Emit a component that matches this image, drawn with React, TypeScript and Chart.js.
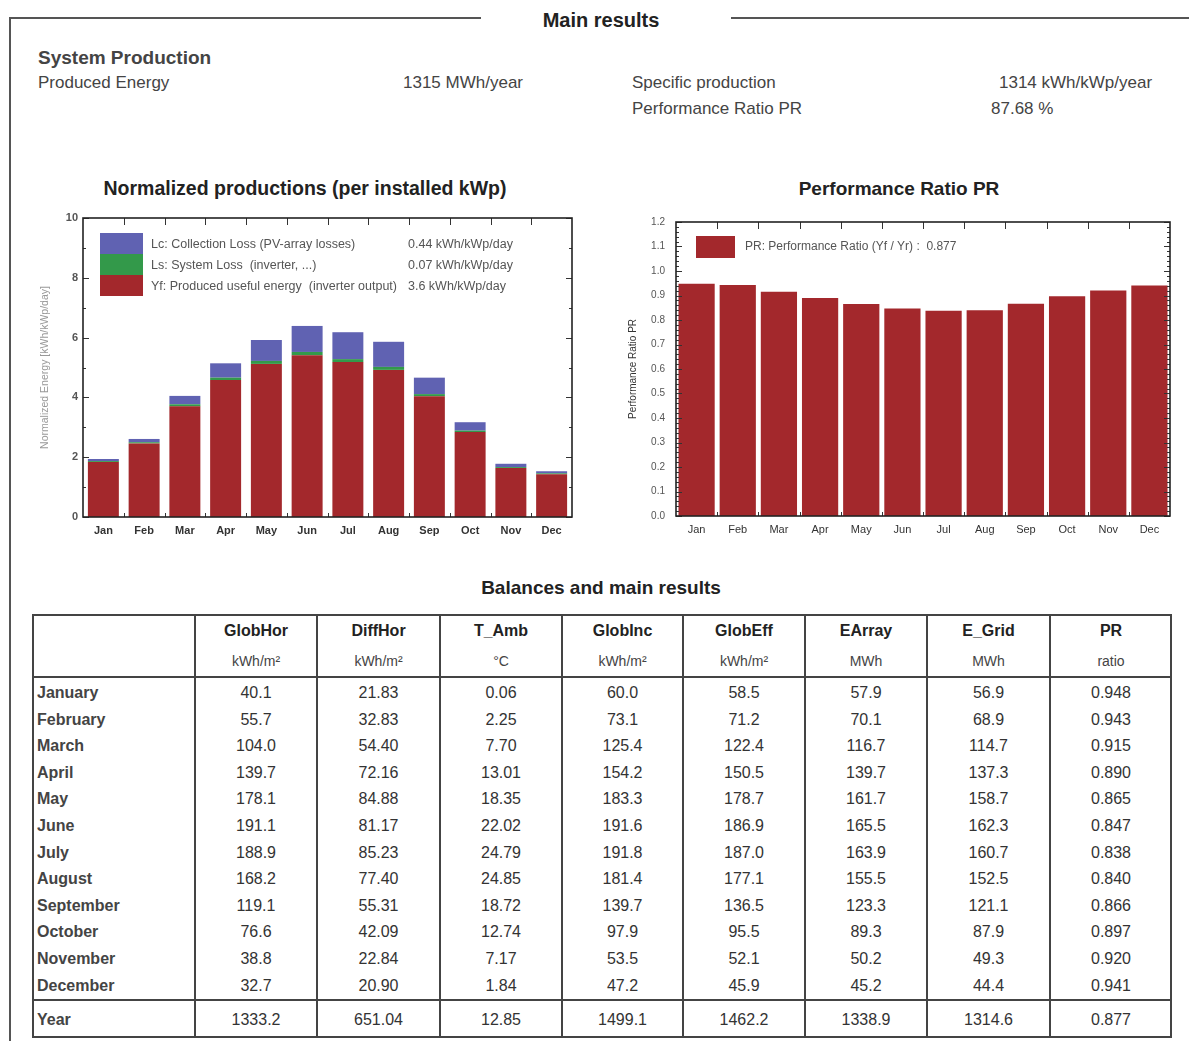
import React, { useEffect, useRef } from "react";
import { Chart, registerables } from "chart.js";

Chart.register(...registerables);

const FONT = '"Liberation Sans", Arial, Helvetica, sans-serif';

// ---------- chart data ----------
const months = ["Jan", "Feb", "Mar", "Apr", "May", "Jun", "Jul", "Aug", "Sep", "Oct", "Nov", "Dec"];
// Normalized productions (kWh/kWp/day)
const yfValues = [1.84, 2.46, 3.70, 4.58, 5.12, 5.41, 5.18, 4.92, 4.04, 2.84, 1.64, 1.43];
const lsValues = [0.03, 0.04, 0.07, 0.08, 0.10, 0.11, 0.10, 0.10, 0.07, 0.05, 0.03, 0.03];
const lcValues = [0.07, 0.11, 0.28, 0.48, 0.70, 0.87, 0.90, 0.84, 0.55, 0.28, 0.11, 0.07];
const normLegendLabels = [
  "Lc: Collection Loss (PV-array losses)",
  "Ls: System Loss  (inverter, ...)",
  "Yf: Produced useful energy  (inverter output)",
];
const normLegendValues = ["0.44 kWh/kWp/day", "0.07 kWh/kWp/day", "3.6 kWh/kWp/day"];
// Performance ratio
const prValues = [0.948, 0.943, 0.915, 0.890, 0.865, 0.847, 0.838, 0.840, 0.866, 0.897, 0.920, 0.941];
const prLegendLabel = "PR: Performance Ratio (Yf / Yr) :  0.877";

// ---------- table data ----------
const rowLabels = ["January", "February", "March", "April", "May", "June", "July", "August", "September", "October", "November", "December"];
const colNames = ["GlobHor", "DiffHor", "T_Amb", "GlobInc", "GlobEff", "EArray", "E_Grid", "PR"];
const colUnits = ["kWh/m²", "kWh/m²", "°C", "kWh/m²", "kWh/m²", "MWh", "MWh", "ratio"];
const globHor = ["40.1", "55.7", "104.0", "139.7", "178.1", "191.1", "188.9", "168.2", "119.1", "76.6", "38.8", "32.7"];
const diffHor = ["21.83", "32.83", "54.40", "72.16", "84.88", "81.17", "85.23", "77.40", "55.31", "42.09", "22.84", "20.90"];
const tAmb = ["0.06", "2.25", "7.70", "13.01", "18.35", "22.02", "24.79", "24.85", "18.72", "12.74", "7.17", "1.84"];
const globInc = ["60.0", "73.1", "125.4", "154.2", "183.3", "191.6", "191.8", "181.4", "139.7", "97.9", "53.5", "47.2"];
const globEff = ["58.5", "71.2", "122.4", "150.5", "178.7", "186.9", "187.0", "177.1", "136.5", "95.5", "52.1", "45.9"];
const eArray = ["57.9", "70.1", "116.7", "139.7", "161.7", "165.5", "163.9", "155.5", "123.3", "89.3", "50.2", "45.2"];
const eGrid = ["56.9", "68.9", "114.7", "137.3", "158.7", "162.3", "160.7", "152.5", "121.1", "87.9", "49.3", "44.4"];
const prTable = ["0.948", "0.943", "0.915", "0.890", "0.865", "0.847", "0.838", "0.840", "0.866", "0.897", "0.920", "0.941"];
const yearRow = ["1333.2", "651.04", "12.85", "1499.1", "1462.2", "1338.9", "1314.6", "0.877"];

const RED = "#a3282c";
const GREEN = "#33994a";
const BLUE = "#6062b2";

// ---------- plugins ----------
function framePlugin(yMajor: number, yMinor: number, majorLen: number, minorLen: number) {
  return {
    id: "frameTicks",
    afterDatasetsDraw(chart: any) {
      const { ctx, chartArea } = chart;
      const { left, right, top, bottom } = chartArea;
      const x = chart.scales.x;
      const y = chart.scales.y;
      ctx.save();
      ctx.strokeStyle = "#333";
      ctx.lineWidth = 1;
      const n = Math.round((y.max - y.min) / yMinor);
      const ratio = Math.round(yMajor / yMinor);
      ctx.beginPath();
      for (let i = 0; i <= n; i++) {
        const v = y.min + i * yMinor;
        const py = Math.round(y.getPixelForValue(v)) + 0.5;
        const len = i % ratio === 0 ? majorLen : minorLen;
        ctx.moveTo(left, py);
        ctx.lineTo(left + len, py);
        ctx.moveTo(right, py);
        ctx.lineTo(right - len, py);
      }
      const cnt = chart.data.labels.length;
      for (let k = 0; k < cnt - 1; k++) {
        const px = Math.round((x.getPixelForValue(k) + x.getPixelForValue(k + 1)) / 2) + 0.5;
        ctx.moveTo(px, top);
        ctx.lineTo(px, top + 7);
        ctx.moveTo(px, bottom);
        ctx.lineTo(px, bottom - 4);
      }
      ctx.stroke();
      ctx.lineWidth = 1.6;
      ctx.strokeStyle = "#222";
      ctx.strokeRect(left, top, right - left, bottom - top);
      ctx.restore();
    },
  };
}

const normLegendPlugin = {
  id: "normLegend",
  afterDraw(chart: any) {
    const { ctx, chartArea } = chart;
    const { left, top } = chartArea;
    const colors = [BLUE, GREEN, RED];
    const bx = left + 17;
    const by = top + 15;
    const bw = 43;
    const bh = 21;
    ctx.save();
    ctx.font = `12.5px ${FONT}`;
    ctx.textBaseline = "middle";
    for (let i = 0; i < 3; i++) {
      ctx.fillStyle = colors[i];
      ctx.fillRect(bx, by + i * bh, bw, bh);
      ctx.fillStyle = "#555";
      ctx.textAlign = "left";
      ctx.fillText(normLegendLabels[i], left + 68, top + 27 + i * 21);
      ctx.fillText(normLegendValues[i], left + 325, top + 27 + i * 21);
    }
    // axis title
    ctx.translate(25, (chartArea.top + chartArea.bottom) / 2);
    ctx.rotate(-Math.PI / 2);
    ctx.textAlign = "center";
    ctx.font = `10.5px ${FONT}`;
    ctx.fillStyle = "#999";
    ctx.fillText("Normalized Energy [kWh/kWp/day]", 0, 0);
    ctx.restore();
  },
};

const prLegendPlugin = {
  id: "prLegend",
  afterDraw(chart: any) {
    const { ctx, chartArea } = chart;
    const { left, top } = chartArea;
    ctx.save();
    ctx.fillStyle = RED;
    ctx.fillRect(left + 20, top + 14, 39, 22);
    ctx.font = `12px ${FONT}`;
    ctx.fillStyle = "#555";
    ctx.textBaseline = "middle";
    ctx.textAlign = "left";
    ctx.fillText(prLegendLabel, left + 69, top + 25);
    ctx.translate(33, (chartArea.top + chartArea.bottom) / 2);
    ctx.rotate(-Math.PI / 2);
    ctx.textAlign = "center";
    ctx.font = `10px ${FONT}`;
    ctx.fillStyle = "#333";
    ctx.fillText("Performance Ratio PR", 0, 0);
    ctx.restore();
  },
};

// ---------- charts ----------
function NormChart() {
  const ref = useRef<HTMLCanvasElement>(null);
  useEffect(() => {
    if (!ref.current) return;
    const chart = new Chart(ref.current, {
      type: "bar",
      data: {
        labels: months,
        datasets: [
          { label: "Yf", data: yfValues, backgroundColor: RED, borderWidth: 0 },
          { label: "Ls", data: lsValues, backgroundColor: GREEN, borderWidth: 0 },
          { label: "Lc", data: lcValues, backgroundColor: BLUE, borderWidth: 0 },
        ],
      },
      options: {
        animation: false,
        responsive: false,
        maintainAspectRatio: false,
        layout: { padding: { top: 13, right: 18, left: 0, bottom: 0 } },
        datasets: { bar: { categoryPercentage: 1, barPercentage: 0.76 } },
        plugins: { legend: { display: false }, tooltip: { enabled: false }, title: { display: false } },
        scales: {
          x: {
            stacked: true,
            grid: { display: false, drawTicks: false },
            border: { display: false },
            ticks: { color: "#333", font: { size: 11, weight: "bold", family: FONT }, padding: 7, maxRotation: 0, autoSkip: false },
            afterFit: (s: any) => { s.height = 28; },
          },
          y: {
            stacked: true,
            min: 0,
            max: 10,
            grid: { display: false, drawTicks: false },
            border: { display: false },
            ticks: { stepSize: 2, color: "#555", font: { size: 11, weight: "bold", family: FONT }, padding: 5 },
            afterFit: (s: any) => { s.width = 63; },
          },
        },
      } as any,
      plugins: [framePlugin(2, 1, 6, 3), normLegendPlugin],
    });
    return () => chart.destroy();
  }, []);
  return (
    <canvas ref={ref} width={570} height={340}
      style={{ position: "absolute", left: 20, top: 205, width: 570, height: 340, display: "block" }} />
  );
}

function PRChart() {
  const ref = useRef<HTMLCanvasElement>(null);
  useEffect(() => {
    if (!ref.current) return;
    const chart = new Chart(ref.current, {
      type: "bar",
      data: {
        labels: months,
        datasets: [{ label: "PR", data: prValues, backgroundColor: RED, borderWidth: 0 }],
      },
      options: {
        animation: false,
        responsive: false,
        maintainAspectRatio: false,
        layout: { padding: { top: 14, right: 19, left: 0, bottom: 0 } },
        datasets: { bar: { categoryPercentage: 1, barPercentage: 0.88 } },
        plugins: { legend: { display: false }, tooltip: { enabled: false }, title: { display: false } },
        scales: {
          x: {
            grid: { display: false, drawTicks: false },
            border: { display: false },
            ticks: { color: "#333", font: { size: 11, family: FONT }, padding: 7, maxRotation: 0, autoSkip: false },
            afterFit: (s: any) => { s.height = 29; },
          },
          y: {
            min: 0,
            max: 1.2,
            grid: { display: false, drawTicks: false },
            border: { display: false },
            ticks: {
              stepSize: 0.1,
              color: "#555",
              font: { size: 10, family: FONT },
              padding: 11,
              callback: (v: any) => Number(v).toFixed(1),
            },
            afterFit: (s: any) => { s.width = 76; },
          },
        },
      } as any,
      plugins: [framePlugin(0.1, 0.02, 6, 3), prLegendPlugin],
    });
    return () => chart.destroy();
  }, []);
  return (
    <canvas ref={ref} width={589} height={340}
      style={{ position: "absolute", left: 600, top: 205, width: 589, height: 340, display: "block" }} />
  );
}

// ---------- text helpers ----------
type TxtProps = { x: number; y: number; size?: number; bold?: boolean; align?: "left" | "center" | "right"; color?: string; children: React.ReactNode };
function Txt({ x, y, size = 17, bold = false, align = "left", color = "#333", children }: TxtProps) {
  const style: React.CSSProperties = {
    position: "absolute",
    top: y - size * 0.5,
    fontSize: size,
    lineHeight: `${size}px`,
    fontWeight: bold ? 700 : 400,
    color,
    whiteSpace: "nowrap",
    fontFamily: FONT,
  };
  if (align === "left") style.left = x;
  else if (align === "center") { style.left = x; style.transform = "translateX(-50%)"; }
  else style.right = 1189 - x;
  return <div style={style}>{children}</div>;
}

const colBounds = [32, 195, 317, 440, 562, 683, 805, 927, 1050, 1172];
const tableTop = 614;
const tableBottom = 1038;

function ResultsTable() {
  const cols = [globHor, diffHor, tAmb, globInc, globEff, eArray, eGrid, prTable];
  const lineColor = "#444";
  const centers = colBounds.slice(1, -1).map((b, i) => (b + colBounds[i + 2]) / 2);
  return (
    <>
      <div style={{ position: "absolute", left: colBounds[0], top: tableTop, width: colBounds[9] - colBounds[0], height: tableBottom - tableTop, border: `2px solid ${lineColor}`, boxSizing: "border-box" }} />
      {colBounds.slice(1, -1).map((b, i) => (
        <div key={"v" + i} style={{ position: "absolute", left: b - 1, top: tableTop, width: 2, height: tableBottom - tableTop, background: lineColor }} />
      ))}
      <div style={{ position: "absolute", left: colBounds[0], top: 676, width: colBounds[9] - colBounds[0], height: 2, background: lineColor }} />
      <div style={{ position: "absolute", left: colBounds[0], top: 999, width: colBounds[9] - colBounds[0], height: 2, background: lineColor }} />
      {colNames.map((n, i) => (
        <Txt key={"h" + i} x={centers[i]} y={631} size={16} bold align="center" color="#222">{n}</Txt>
      ))}
      {colUnits.map((u, i) => (
        <Txt key={"u" + i} x={centers[i]} y={661} size={14} align="center" color="#444">{u}</Txt>
      ))}
      {rowLabels.map((r, j) => (
        <Txt key={"r" + j} x={37} y={693 + j * 26.6} size={16} bold color="#444">{r}</Txt>
      ))}
      {cols.map((col, i) =>
        col.map((v, j) => (
          <Txt key={"c" + i + "_" + j} x={centers[i]} y={693 + j * 26.6} size={16} align="center" color="#333">{v}</Txt>
        ))
      )}
      <Txt x={37} y={1020} size={16} bold color="#444">Year</Txt>
      {yearRow.map((v, i) => (
        <Txt key={"y" + i} x={centers[i]} y={1020} size={16} align="center" color="#333">{v}</Txt>
      ))}
    </>
  );
}

export default function App() {
  return (
    <div style={{ position: "absolute", left: 0, top: 0, width: 1189, height: 1041, background: "#fff", overflow: "hidden", fontFamily: FONT }}>
      {/* frame */}
      <div style={{ position: "absolute", left: 9, top: 17, width: 2, height: 1024, background: "#555" }} />
      <div style={{ position: "absolute", left: 9, top: 17, width: 472, height: 2, background: "#555" }} />
      <div style={{ position: "absolute", left: 731, top: 17, width: 458, height: 2, background: "#555" }} />
      <Txt x={601} y={20} size={20} bold align="center" color="#222">Main results</Txt>

      <Txt x={38} y={57} size={19} bold color="#444">System Production</Txt>
      <Txt x={38} y={82} size={17} color="#444">Produced Energy</Txt>
      <Txt x={403} y={82} size={17} color="#444">1315 MWh/year</Txt>
      <Txt x={632} y={82} size={17} color="#444">Specific production</Txt>
      <Txt x={999} y={82} size={17} color="#444">1314 kWh/kWp/year</Txt>
      <Txt x={632} y={108} size={17} color="#444">Performance Ratio PR</Txt>
      <Txt x={991} y={108} size={17} color="#444">87.68 %</Txt>

      <Txt x={305} y={189} size={19.5} bold align="center" color="#222">Normalized productions (per installed kWp)</Txt>
      <Txt x={899} y={188} size={19} bold align="center" color="#222">Performance Ratio PR</Txt>

      <NormChart />
      <PRChart />

      <Txt x={601} y={587} size={19} bold align="center" color="#222">Balances and main results</Txt>
      <ResultsTable />
    </div>
  );
}
